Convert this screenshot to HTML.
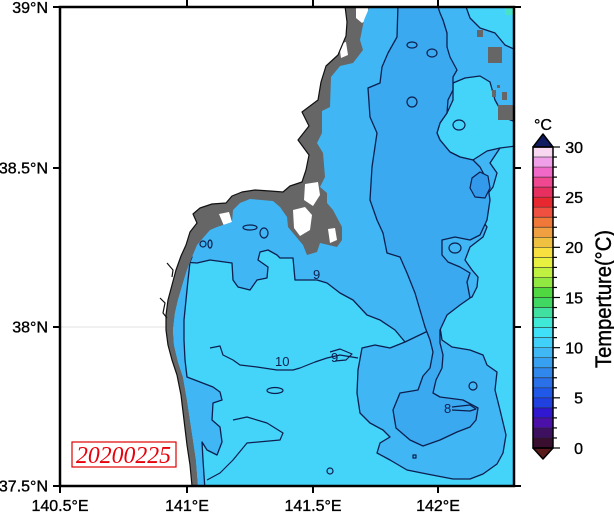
<!DOCTYPE html>
<html><head><meta charset="utf-8"><style>
html,body{margin:0;padding:0;background:#fff;}
svg{display:block;}
text{font-family:"Liberation Sans",Arial,sans-serif;}
</style></head><body>
<svg width="614" height="513" viewBox="0 0 614 513" xmlns="http://www.w3.org/2000/svg">
<defs>
<clipPath id="fr"><rect x="60" y="7" width="454" height="479"/></clipPath>
<clipPath id="sea"><polygon points="370,6 364,20 360,40 363,50 353,63 340,66 331,77 330,107 322,111 322,133 317,143 323,153 325,177 320,187 327,193 327,203 333,210 342,227 342,240 337,247 320,243 317,252 307,255 303,245 293,233 288,227 287,217 280,207 273,201 250,199 240,203 233,210 232,222 217,227 210,230 203,238 197,245 192,257 187,270 183,283 178,300 175,313 173,330 174,345 178,362 183,377 187,400 190,420 193,440 196,460 198,486 520,486 520,0 370,0"/></clipPath>
</defs>
<rect x="0" y="0" width="614" height="513" fill="#fff"/>
<g clip-path="url(#fr)">
<line x1="60" y1="327" x2="170" y2="327" stroke="#e2e2e2" stroke-width="1"/>
<polygon fill="#666" points="345,6 347,22 346,36 338,55 326,66 321,82 318,100 302,112 309,126 298,140 309,155 306,170 302,182 290,186 283,192 270,191 255,190 242,192 232,196 226,203 212,204 200,208 193,214 197,223 190,232 186,245 181,256 176,270 172,285 168,300 166,315 166,330 168,345 172,360 177,375 181,395 184,420 187,445 190,465 192,486 514,486 514,6"/>
<g fill="#fff">
<polygon points="356,8 368,8 369,18 362,23 356,18"/>
<polygon points="339,44 346,42 348,55 341,58"/>
<polygon points="305,184 318,182 320,195 313,206 304,200"/>
<polygon points="293,210 305,207 312,215 310,230 300,236 294,228"/>
<polygon points="328,229 335,228 337,240 330,243"/>
<polygon points="219,214 229,212 232,222 224,226"/>
</g>
<g clip-path="url(#sea)" stroke-linejoin="round">
<rect x="60" y="6" width="456" height="482" fill="#40b6f4"/>
<g fill="#44d4fa" stroke="#0d1f4f" stroke-width="1.3">
<polygon points="150,262 183,262 197,263 210,260 232,263 233,280 238,287 250,290 257,280 267,278 268,267 258,260 260,252 268,250 277,255 280,258 293,258 295,280 317,280 327,283 340,293 353,300 367,315 380,320 395,330 405,342 420,345 440,327 447,313 457,303 472,297 477,287 478,277 472,270 465,260 470,247 483,237 487,227 477,213 483,200 493,187 497,173 490,163 500,148 516,144 516,488 150,488"/>
<polygon points="465,4 516,4 516,50 505,45 495,33 480,28 470,18"/>
<polygon points="453,83 465,78 480,76 490,82 495,100 505,118 516,122 516,146 500,148 487,151 473,160 460,157 450,152 440,140 437,133 440,123 447,113 453,100"/>
</g>
<g fill="#40b6f4" stroke="#0d1f4f" stroke-width="1.3">
<polygon points="150,250 192,257 190,262 188,280 186,300 184,320 184,340 185,360 187,377 200,382 213,387 220,392 222,400 213,403 212,420 220,427 222,442 217,455 207,450 202,442 203,460 205,490 150,490"/>
<polygon points="405,342 390,348 375,345 362,348 358,370 357,393 360,413 370,423 383,430 390,437 380,443 377,453 390,460 407,470 427,474 453,479 470,479 483,474 497,464 503,453 506,435 500,410 495,390 497,372 487,365 483,355 470,350 452,347 442,340 440,327 430,330"/>
</g>
<polygon fill="#3aa9f0" stroke="#0d1f4f" stroke-width="1.3" points="398,4 397,37 388,53 382,67 380,83 368,88 370,117 377,133 372,167 370,200 377,220 383,233 387,253 400,257 407,273 415,293 420,310 425,327 430,340 433,352 430,368 423,376 418,390 400,393 393,410 396,428 410,440 423,446 440,440 457,432 470,427 476,420 478,408 463,400 440,397 433,393 436,380 442,368 443,355 440,343 440,330 447,315 460,305 470,298 467,282 470,273 460,267 448,262 442,255 442,240 455,237 470,240 480,235 487,220 490,200 487,180 480,167 473,160 460,157 450,152 440,140 437,133 440,123 447,113 448,100 453,90 453,77 457,70 450,57 447,47 447,33 443,20 440,13 437,4"/>
<polygon fill="#3399ea" stroke="#0d1f4f" stroke-width="1.2" points="472,178 480,172 488,176 490,188 485,198 475,197 470,188"/>
<g fill="none" stroke="#0d1f4f" stroke-width="1.2">
<polyline points="210,348 220,346 223,355 233,360 240,365 257,367 277,370 293,370 300,368 315,362 327,358 340,355 358,358"/>
<polyline points="233,420 247,417 267,423 283,433 280,440 247,443 233,460 220,473 207,480"/>
<ellipse cx="250" cy="227.5" rx="7" ry="2.5"/>
<ellipse cx="264" cy="233" rx="4" ry="5"/>
<ellipse cx="203" cy="244" rx="3" ry="3"/>
<ellipse cx="210" cy="244" rx="2" ry="4"/>
<ellipse cx="412" cy="102" rx="5" ry="5"/>
<ellipse cx="412" cy="45" rx="5" ry="3"/>
<ellipse cx="432" cy="53" rx="5" ry="4"/>
<ellipse cx="459" cy="125" rx="6" ry="5"/>
<ellipse cx="275" cy="390.5" rx="8" ry="3"/>
<ellipse cx="473" cy="386" rx="4" ry="4"/>
<ellipse cx="330" cy="471" rx="3" ry="3"/>
<ellipse cx="455" cy="248" rx="6" ry="5"/>
<rect x="413" y="455" width="3" height="3"/>
<polyline points="452,407 470,405 476,409 470,411 452,410"/>
<polyline points="330,352 340,349 352,354 346,360 335,361"/>
</g>
<g fill="#0d1f4f" font-size="13">
<text x="275" y="366">10</text>
<text x="313" y="279">9</text>
<text x="331" y="362">9</text>
<text x="444" y="413">8</text>
</g>
<rect x="505" y="6" width="10" height="9" fill="#4ae2c4"/>
</g>
<g fill="#666">
<rect x="477" y="30" width="6" height="7"/>
<rect x="488" y="47" width="14" height="16"/>
<rect x="492" y="90" width="4" height="7"/>
<rect x="497" y="85" width="3" height="3"/>
<rect x="502" y="92" width="5" height="8"/>
<rect x="498" y="105" width="16" height="15"/>
</g>
<polyline fill="none" stroke="#111" stroke-width="1.2" stroke-linejoin="round" points="345,6 347,22 346,36 338,55 326,66 321,82 318,100 302,112 309,126 298,140 309,155 306,170 302,182 290,186 283,192 270,191 255,190 242,192 232,196 226,203 212,204 200,208 193,214 197,223 190,232 186,245 181,256 176,270 172,285 168,300 166,315 166,330 168,345 172,360 177,375 181,395 184,420 187,445 190,465 192,486"/>
<polyline fill="none" stroke="#111" stroke-width="1.2" points="167,263 173,270 172,277"/>
<polyline fill="none" stroke="#111" stroke-width="1.2" points="160,298 165,303 163,313 167,318"/>
</g>
<rect x="60" y="7" width="454" height="479" fill="none" stroke="#000" stroke-width="2.5"/>
<g stroke="#000" stroke-width="2">
<line x1="187" y1="0" x2="187" y2="7"/><line x1="313" y1="0" x2="313" y2="7"/><line x1="438" y1="0" x2="438" y2="7"/>
<line x1="60" y1="486" x2="60" y2="493"/><line x1="187" y1="486" x2="187" y2="493"/><line x1="313" y1="486" x2="313" y2="493"/><line x1="438" y1="486" x2="438" y2="493"/>
<line x1="53" y1="7" x2="60" y2="7"/><line x1="53" y1="168" x2="60" y2="168"/><line x1="53" y1="327" x2="60" y2="327"/><line x1="53" y1="486" x2="60" y2="486"/>
<line x1="514" y1="7" x2="521" y2="7"/><line x1="514" y1="168" x2="521" y2="168"/><line x1="514" y1="327" x2="521" y2="327"/><line x1="514" y1="486" x2="521" y2="486"/>
</g>
<g font-size="16" fill="#000" stroke="#000" stroke-width="0.35">
<text x="48" y="13" text-anchor="end">39°N</text>
<text x="48" y="173.5" text-anchor="end">38.5°N</text>
<text x="48" y="332.5" text-anchor="end">38°N</text>
<text x="48" y="491.5" text-anchor="end">37.5°N</text>
<text x="60" y="511" text-anchor="middle">140.5°E</text>
<text x="187" y="511" text-anchor="middle">141°E</text>
<text x="313" y="511" text-anchor="middle">141.5°E</text>
<text x="438" y="511" text-anchor="middle">142°E</text>
</g>
<!-- colorbar -->
<g>
<rect x="533" y="437.97" width="20" height="10.05" fill="#3a0e2e"/>
<rect x="533" y="427.93" width="20" height="10.05" fill="#3e1060"/>
<rect x="533" y="417.9" width="20" height="10.05" fill="#4a10a8"/>
<rect x="533" y="407.87" width="20" height="10.05" fill="#3018d0"/>
<rect x="533" y="397.83" width="20" height="10.05" fill="#2040e0"/>
<rect x="533" y="387.8" width="20" height="10.05" fill="#2058e8"/>
<rect x="533" y="377.77" width="20" height="10.05" fill="#2a70e8"/>
<rect x="533" y="367.73" width="20" height="10.05" fill="#3088ec"/>
<rect x="533" y="357.7" width="20" height="10.05" fill="#38a0f0"/>
<rect x="533" y="347.67" width="20" height="10.05" fill="#40b8f6"/>
<rect x="533" y="337.63" width="20" height="10.05" fill="#40d0fa"/>
<rect x="533" y="327.6" width="20" height="10.05" fill="#40e0f8"/>
<rect x="533" y="317.57" width="20" height="10.05" fill="#40e8d8"/>
<rect x="533" y="307.53" width="20" height="10.05" fill="#40e0a0"/>
<rect x="533" y="297.5" width="20" height="10.05" fill="#40d860"/>
<rect x="533" y="287.47" width="20" height="10.05" fill="#50d840"/>
<rect x="533" y="277.43" width="20" height="10.05" fill="#90e840"/>
<rect x="533" y="267.4" width="20" height="10.05" fill="#c0f040"/>
<rect x="533" y="257.37" width="20" height="10.05" fill="#e8f040"/>
<rect x="533" y="247.33" width="20" height="10.05" fill="#f8e040"/>
<rect x="533" y="237.3" width="20" height="10.05" fill="#f0c040"/>
<rect x="533" y="227.27" width="20" height="10.05" fill="#f0a040"/>
<rect x="533" y="217.23" width="20" height="10.05" fill="#f07838"/>
<rect x="533" y="207.2" width="20" height="10.05" fill="#f05040"/>
<rect x="533" y="197.17" width="20" height="10.05" fill="#e82830"/>
<rect x="533" y="187.13" width="20" height="10.05" fill="#e83060"/>
<rect x="533" y="177.1" width="20" height="10.05" fill="#f04890"/>
<rect x="533" y="167.07" width="20" height="10.05" fill="#f068c8"/>
<rect x="533" y="157.03" width="20" height="10.05" fill="#f0a0e8"/>
<rect x="533" y="147" width="20" height="10.05" fill="#f8d8f0"/>
</g>
<g stroke="#222" stroke-width="0.7" opacity="0.8">
<line x1="533" y1="437.97" x2="553" y2="437.97"/><line x1="533" y1="427.93" x2="553" y2="427.93"/><line x1="533" y1="417.9" x2="553" y2="417.9"/><line x1="533" y1="407.87" x2="553" y2="407.87"/><line x1="533" y1="397.83" x2="553" y2="397.83"/><line x1="533" y1="387.8" x2="553" y2="387.8"/><line x1="533" y1="377.77" x2="553" y2="377.77"/><line x1="533" y1="367.73" x2="553" y2="367.73"/><line x1="533" y1="357.7" x2="553" y2="357.7"/><line x1="533" y1="347.67" x2="553" y2="347.67"/><line x1="533" y1="337.63" x2="553" y2="337.63"/><line x1="533" y1="327.6" x2="553" y2="327.6"/><line x1="533" y1="317.57" x2="553" y2="317.57"/><line x1="533" y1="307.53" x2="553" y2="307.53"/><line x1="533" y1="297.5" x2="553" y2="297.5"/><line x1="533" y1="287.47" x2="553" y2="287.47"/><line x1="533" y1="277.43" x2="553" y2="277.43"/><line x1="533" y1="267.4" x2="553" y2="267.4"/><line x1="533" y1="257.37" x2="553" y2="257.37"/><line x1="533" y1="247.33" x2="553" y2="247.33"/><line x1="533" y1="237.3" x2="553" y2="237.3"/><line x1="533" y1="227.27" x2="553" y2="227.27"/><line x1="533" y1="217.23" x2="553" y2="217.23"/><line x1="533" y1="207.2" x2="553" y2="207.2"/><line x1="533" y1="197.17" x2="553" y2="197.17"/><line x1="533" y1="187.13" x2="553" y2="187.13"/><line x1="533" y1="177.1" x2="553" y2="177.1"/><line x1="533" y1="167.07" x2="553" y2="167.07"/><line x1="533" y1="157.03" x2="553" y2="157.03"/>
</g>
<polygon points="533,147 543,134 553,147" fill="#101a60" stroke="#000" stroke-width="1.5" stroke-linejoin="round"/>
<polygon points="533,448 543,459 553,448" fill="#5a1a1a" stroke="#000" stroke-width="1.5" stroke-linejoin="round"/>
<rect x="533" y="147" width="20" height="301" fill="none" stroke="#000" stroke-width="1.5"/>
<g stroke="#000" stroke-width="1.2">
<line x1="553" y1="437.97" x2="557" y2="437.97"/><line x1="553" y1="427.93" x2="557" y2="427.93"/><line x1="553" y1="417.9" x2="557" y2="417.9"/><line x1="553" y1="407.87" x2="557" y2="407.87"/><line x1="553" y1="387.8" x2="557" y2="387.8"/><line x1="553" y1="377.77" x2="557" y2="377.77"/><line x1="553" y1="367.73" x2="557" y2="367.73"/><line x1="553" y1="357.7" x2="557" y2="357.7"/><line x1="553" y1="337.63" x2="557" y2="337.63"/><line x1="553" y1="327.6" x2="557" y2="327.6"/><line x1="553" y1="317.57" x2="557" y2="317.57"/><line x1="553" y1="307.53" x2="557" y2="307.53"/><line x1="553" y1="287.47" x2="557" y2="287.47"/><line x1="553" y1="277.43" x2="557" y2="277.43"/><line x1="553" y1="267.4" x2="557" y2="267.4"/><line x1="553" y1="257.37" x2="557" y2="257.37"/><line x1="553" y1="237.3" x2="557" y2="237.3"/><line x1="553" y1="227.27" x2="557" y2="227.27"/><line x1="553" y1="217.23" x2="557" y2="217.23"/><line x1="553" y1="207.2" x2="557" y2="207.2"/><line x1="553" y1="187.13" x2="557" y2="187.13"/><line x1="553" y1="177.1" x2="557" y2="177.1"/><line x1="553" y1="167.07" x2="557" y2="167.07"/><line x1="553" y1="157.03" x2="557" y2="157.03"/>
<line x1="553" y1="147" x2="560" y2="147"/><line x1="553" y1="197.17" x2="560" y2="197.17"/><line x1="553" y1="247.33" x2="560" y2="247.33"/><line x1="553" y1="297.5" x2="560" y2="297.5"/><line x1="553" y1="347.67" x2="560" y2="347.67"/><line x1="553" y1="397.83" x2="560" y2="397.83"/><line x1="553" y1="448" x2="560" y2="448"/>
</g>
<g font-size="16" fill="#000" stroke="#000" stroke-width="0.35" text-anchor="end">
<text x="583" y="152.8">30</text>
<text x="583" y="203">25</text>
<text x="583" y="253.1">20</text>
<text x="583" y="303.3">15</text>
<text x="583" y="353.5">10</text>
<text x="583" y="403.6">5</text>
<text x="583" y="453.8">0</text>
</g>
<text x="543" y="130" font-size="16" text-anchor="middle" fill="#000" stroke="#000" stroke-width="0.35">°C</text>
<text transform="translate(611,299) rotate(-90)" font-size="22" text-anchor="middle" fill="#000" stroke="#000" stroke-width="0.4" textLength="138" lengthAdjust="spacingAndGlyphs">Temperture(°C)</text>
<!-- date box -->
<rect x="72" y="442" width="104" height="25" fill="#fff" stroke="#e00000" stroke-width="1.2"/>
<text x="123.5" y="463" style="font-family:'Liberation Serif','DejaVu Serif',serif;font-style:italic;font-size:24px;" fill="#e8000a" text-anchor="middle" textLength="95" lengthAdjust="spacingAndGlyphs">20200225</text>
</svg>
</body></html>
